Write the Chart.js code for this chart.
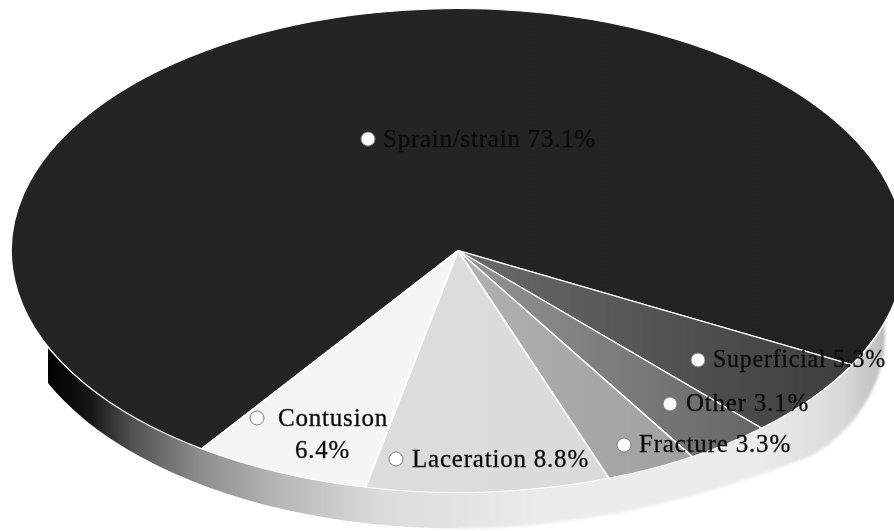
<!DOCTYPE html>
<html>
<head>
<meta charset="utf-8">
<style>
html,body{margin:0;padding:0;background:#fff;}
canvas{display:block;}
</style>
<script src="https://cdn.jsdelivr.net/npm/chart.js@4/dist/chart.umd.min.js"></script>
</head>
<body>
<canvas id="c" width="894" height="531"></canvas>
<script>
// Clockwise from the top-left boundary of the largest slice
const categories = ["Sprain/strain", "Superficial", "Other", "Fracture", "Laceration", "Contusion"];
const shares = [73.1, 5.3, 3.1, 3.3, 8.8, 6.4];
const colorsNearCentre = ["#242424", "#6a6a6a", "#949494", "#b0b0b0", "#dcdcdc", "#f5f5f5"];
const colorsAtRim = ["#222222", "#383838", "#505050", "#929292", "#d6d6d6", "#f3f3f3"];

// Layout of the annotations (not data)
const labelLayout = [
  {dot:[368,139], text:[383,147], width:213},
  {dot:[698,360], text:[713,367], width:173},
  {dot:[670,404], text:[686,411], width:123},
  {dot:[624,445], text:[639,452], width:153},
  {dot:[396,459], text:[412,467], width:177},
  {dot:[257,418], text:[278,426], width:111, second:[295,458], secondWidth:55}
];
const squashX = 447 / 242;
const depth = 36;

const pseudo3d = {
  id: "pseudo3d",
  beforeDatasetsDraw(chart) {
    const arc = chart.getDatasetMeta(0).data[0];
    const ctx = chart.ctx, cx = arc.x, cy = arc.y, ry = arc.outerRadius, rx = ry * squashX;
    const wall = () => {
      ctx.beginPath();
      ctx.moveTo(cx - rx, cy);
      ctx.ellipse(cx, cy + depth, rx, ry, 0, Math.PI, Math.PI / 2, true);
      // the right side of the wall swells slightly before it ends
      ctx.bezierCurveTo(cx + 0.318*rx, cy + 1.149*ry, cx + 0.586*rx, cy + 0.992*ry, cx + 0.765*rx, cy + 0.868*ry);
      ctx.bezierCurveTo(cx + 0.855*rx, cy + 0.806*ry, cx + 0.955*rx, cy + 0.6*ry, cx + 0.955*rx, cy + 0.35*ry);
      ctx.lineTo(cx + 0.955*rx, cy);
      ctx.closePath();
    };
    const g = ctx.createLinearGradient(48, 0, 884, 0);
    [[0,"#000000"],[0.05,"#161616"],[0.10,"#505050"],[0.18,"#8c8c8c"],[0.28,"#b8b8b8"],
     [0.40,"#dcdcdc"],[0.6,"#ececec"],[0.85,"#ebebeb"],[0.95,"#dadada"],[1,"#bdbdbd"]]
      .forEach(s => g.addColorStop(s[0], s[1]));
    // left half crisp, right half with the soft fading edge
    ctx.save();
    ctx.beginPath();
    ctx.rect(cx - 410, 0, 410, chart.height);
    ctx.clip();
    ctx.fillStyle = g;
    wall();
    ctx.fill();
    ctx.restore();
    ctx.save();
    ctx.beginPath();
    ctx.rect(cx, 0, 430, chart.height);
    ctx.clip();
    ctx.fillStyle = g;
    ctx.filter = "blur(1.5px)";
    wall();
    ctx.fill();
    ctx.restore();
    // squash the round pie into the tilted ellipse
    ctx.save();
    ctx.translate(cx, cy);
    ctx.scale(squashX, 1);
    ctx.translate(-cx, -cy);
  },
  afterDatasetsDraw(chart) {
    const ctx = chart.ctx;
    ctx.restore();
    ctx.save();
    ctx.font = "25px 'Liberation Serif'";
    ctx.letterSpacing = "0.8px";
    ctx.textBaseline = "alphabetic";
    ctx.textAlign = "left";
    categories.forEach((name, i) => {
      const l = labelLayout[i];
      ctx.beginPath();
      ctx.arc(l.dot[0], l.dot[1], 7, 0, Math.PI * 2);
      ctx.fillStyle = "#ffffff";
      ctx.fill();
      ctx.lineWidth = 1;
      ctx.strokeStyle = "#7a7a7a";
      ctx.stroke();
      ctx.fillStyle = "#0c0c0c";
      ctx.strokeStyle = "#0c0c0c";
      ctx.lineWidth = 0.3;
      const put = (s, p, w) => { ctx.fillText(s, p[0], p[1], w); ctx.strokeText(s, p[0], p[1], w); };
      const pct = shares[i].toFixed(1) + "%";
      if (l.second) {
        put(name, l.text, l.width);
        put(pct, l.second, l.secondWidth);
      } else {
        put(name + " " + pct, l.text, l.width);
      }
    });
    ctx.restore();
  }
};

function sliceFill(context) {
  const chart = context.chart, area = chart.chartArea;
  if (!area) return colorsAtRim[context.dataIndex];
  const cx = (area.left + area.right) / 2;
  const g = chart.ctx.createLinearGradient(cx, 0, cx + 242, 0);
  g.addColorStop(0, colorsNearCentre[context.dataIndex]);
  g.addColorStop(1, colorsAtRim[context.dataIndex]);
  return g;
}

new Chart(document.getElementById("c"), {
  type: "pie",
  data: {
    labels: categories,
    datasets: [{
      data: shares,
      backgroundColor: sliceFill,
      borderColor: "#ffffff",
      borderWidth: 1,
      clip: false
    }]
  },
  options: {
    responsive: false,
    animation: false,
    rotation: 215,
    radius: 242,
    layout: {padding: {left: 22, right: 0, top: 0, bottom: 30}},
    plugins: {legend: {display: false}, tooltip: {enabled: false}, title: {display: false}}
  },
  plugins: [pseudo3d]
});
</script>
</body>
</html>
